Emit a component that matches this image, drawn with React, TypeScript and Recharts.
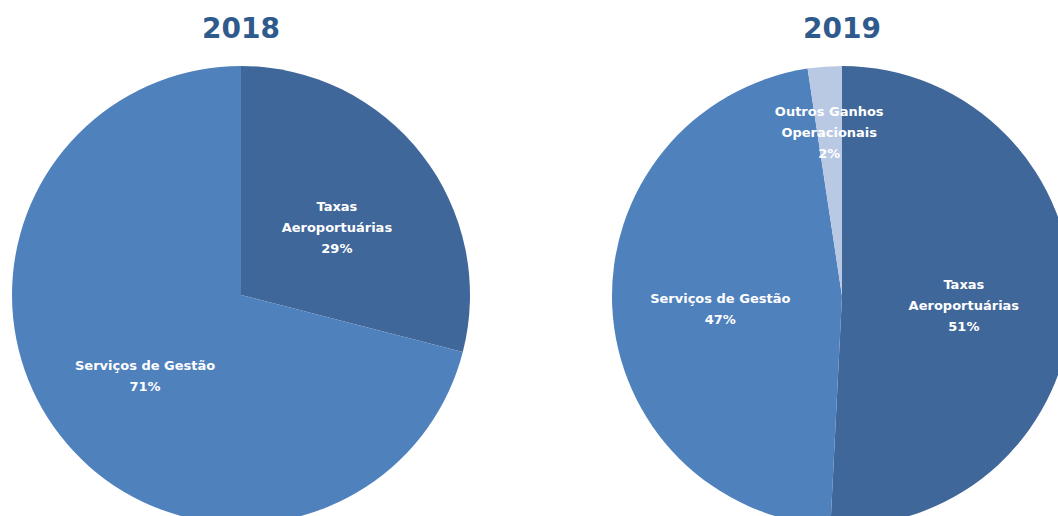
import { PieChart, Pie, Cell } from 'recharts';

const years = ['2018', '2019'];
const categories2018 = ['Taxas\nAeroportuárias', 'Serviços de Gestão'];
const values2018 = [29, 71];
const categories2019 = ['Taxas\nAeroportuárias', 'Serviços de Gestão', 'Outros Ganhos\nOperacionais'];
const values2019 = [51, 47, 2.4];

const colors: Record<string, string> = {
  'Taxas\nAeroportuárias': '#40679a',
  'Serviços de Gestão': '#4f81bd',
  'Outros Ganhos\nOperacionais': '#b9c9e4',
};

const data2018 = categories2018.map((name, i) => ({ name, value: values2018[i] }));
const data2019 = categories2019.map((name, i) => ({ name, value: values2019[i] }));

const RAD = Math.PI / 180;

// labels sit inside the slices, small slices pushed near the rim like Excel does
const renderLabel = (props: any) => {
  const { cx, cy, midAngle, outerRadius, percent, name } = props;
  const factor = percent < 0.05 ? 0.74 : 0.53;
  const r = outerRadius * factor;
  const x = cx + r * Math.cos(-midAngle * RAD);
  const y = cy + r * Math.sin(-midAngle * RAD) + 6;
  const lines = [...String(name).split('\n'), `${Math.round(percent * 100)}%`];
  const lh = 21;
  const top = y - ((lines.length - 1) * lh) / 2;
  return (
    <text
      x={x}
      y={top}
      fill="#ffffff"
      textAnchor="middle"
      dominantBaseline="central"
      style={{ fontFamily: 'DejaVu Sans', fontWeight: 700, fontSize: 13 }}
    >
      {lines.map((l, i) => (
        <tspan key={i} x={x} dy={i === 0 ? 0 : lh}>{l}</tspan>
      ))}
    </text>
  );
};

const titleStyle: React.CSSProperties = {
  position: 'absolute',
  top: 9,
  width: 200,
  textAlign: 'center',
  fontFamily: 'DejaVu Sans',
  fontWeight: 700,
  fontSize: 28,
  color: '#2f5a8c',
  lineHeight: '40px',
};

export default function App() {
  return (
    <div style={{ position: 'absolute', left: 0, top: 0, width: 1058, height: 516, background: '#fff', overflow: 'hidden' }}>
      <PieChart width={1058} height={516} margin={{ top: 0, right: 0, bottom: 0, left: 0 }}>
        <Pie
          data={data2018}
          dataKey="value"
          nameKey="name"
          cx={241}
          cy={295}
          outerRadius={229}
          startAngle={90}
          endAngle={-270}
          stroke="none"
          labelLine={false}
          label={renderLabel}
          isAnimationActive={false}
        >
          {data2018.map((d, i) => (
            <Cell key={`a-${i}`} fill={colors[d.name]} />
          ))}
        </Pie>
        <Pie
          data={data2019}
          dataKey="value"
          nameKey="name"
          cx={842}
          cy={296}
          outerRadius={230}
          startAngle={90}
          endAngle={-270}
          stroke="none"
          labelLine={false}
          label={renderLabel}
          isAnimationActive={false}
        >
          {data2019.map((d, i) => (
            <Cell key={`b-${i}`} fill={colors[d.name]} />
          ))}
        </Pie>
      </PieChart>
      <div style={{ ...titleStyle, left: 141 }}>{years[0]}</div>
      <div style={{ ...titleStyle, left: 742 }}>{years[1]}</div>
    </div>
  );
}
